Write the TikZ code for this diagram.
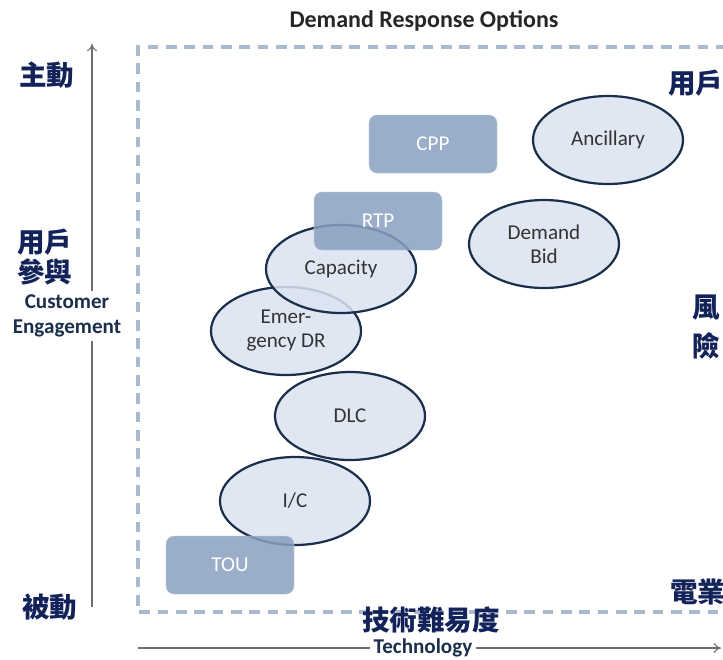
\documentclass[tikz,border=0pt]{standalone}
\usepackage{fontspec}
\setmainfont{Carlito}
\newfontfamily\cjk{Noto Sans CJK TC}
\usetikzlibrary{arrows.meta, shapes.geometric}

\definecolor{marco}{HTML}{A9B9CF}
\definecolor{borde}{HTML}{1B2E4B}
\definecolor{relleno}{HTML}{DAE3F0}
\definecolor{caja}{HTML}{889FBF}
\definecolor{tinta}{HTML}{333333}
\definecolor{azul}{HTML}{13235A}
\definecolor{eje}{HTML}{6E6E6E}

\tikzset{
  opcion/.style={ellipse, draw=borde, line width=1.9pt, fill=relleno,
    fill opacity=0.85, text opacity=1, text=tinta, inner sep=0pt,
    minimum width=45mm, minimum height=26.4mm, align=center,
    font=\fontsize{18}{20.5}\selectfont},
  tarifa/.style={rectangle, rounded corners=2.4mm, fill=caja, draw=caja!55!white,
    line width=0.6pt, fill opacity=0.85, draw opacity=0.6, text opacity=1,
    text=white, minimum width=38.4mm, minimum height=17.4mm,
    font=\fontsize{18}{20.5}\selectfont},
  rotulo/.style={font=\cjk\bfseries\fontsize{23.5}{25.6}\selectfont, text=azul,
    inner sep=0pt, align=center}
}

\begin{document}
\begin{tikzpicture}[x=0.3mm, y=-0.3mm, >={To[length=2.2mm,width=3mm]}]
  \useasboundingbox (0,0) rectangle (723,659);
  \node[font=\bfseries\fontsize{20.5}{24}\selectfont, text=black!85] (titulo) at (424,21)
    {Demand Response Options};
  % marco punteado
  \draw[marco, line width=2.6pt, dash pattern=on 3.2mm off 2.3mm]
    (745,47) -- (138,47) -- (138,612) -- (745,612);
  % eje vertical
  \node[font=\bfseries\fontsize{18}{21.3}\selectfont, align=center, text=borde]
    (ce) at (67,316) {Customer\\Engagement};
  \coordinate (v0) at (92,607);
  \coordinate (v1) at (92,44);
  \draw[eje, line width=0.9pt] (v0) -- (ce.south -| v0);
  \draw[eje, line width=0.9pt, ->] (ce.north -| v0) -- (v1);
  % eje horizontal
  \node[font=\bfseries\fontsize{18}{21}\selectfont, text=borde] (tec) at (423,648) {Technology};
  \coordinate (h0) at (138,648);
  \coordinate (h1) at (721,648);
  \draw[eje, line width=0.9pt] (h0) -- (tec.west);
  \draw[eje, line width=0.9pt, ->] (tec.east) -- (h1);
  % rotulos en chino
  \node[rotulo] (activo) at (47,75) {主動};
  \node[rotulo] (pasivo) at (50,607) {被動};
  \node[rotulo] (part) at (45,257) {用戶\\參與};
  \node[rotulo] (dificultad) at (431,620) {技術難易度};
  \node[rotulo, anchor=west] (usuario) at (668,83) {用戶};
  \node[rotulo, font=\cjk\bfseries\fontsize{23.5}{33}\selectfont] (riesgo) at (706,327) {風\\險};
  \node[rotulo, anchor=west] (empresa) at (670,592) {電業};
  % opciones (elipses)
  \node[opcion] (emer) at (286,331) {Emer-\\gency DR};
  \node[opcion] (cap) at (341,269) {Capacity};
  \node[opcion] (dlc) at (350,416) {DLC};
  \node[opcion] (ic) at (295,501) {I/C};
  \node[opcion] (bid) at (544,244) {Demand\\Bid};
  \node[opcion] (anc) at (608,140) {Ancillary};
  % tarifas (cajas)
  \node[tarifa] (cpp) at (433,144) {CPP};
  \node[tarifa] (rtp) at (378,221) {RTP};
  \node[tarifa] (tou) at (230,565) {TOU};
\end{tikzpicture}
\end{document}
